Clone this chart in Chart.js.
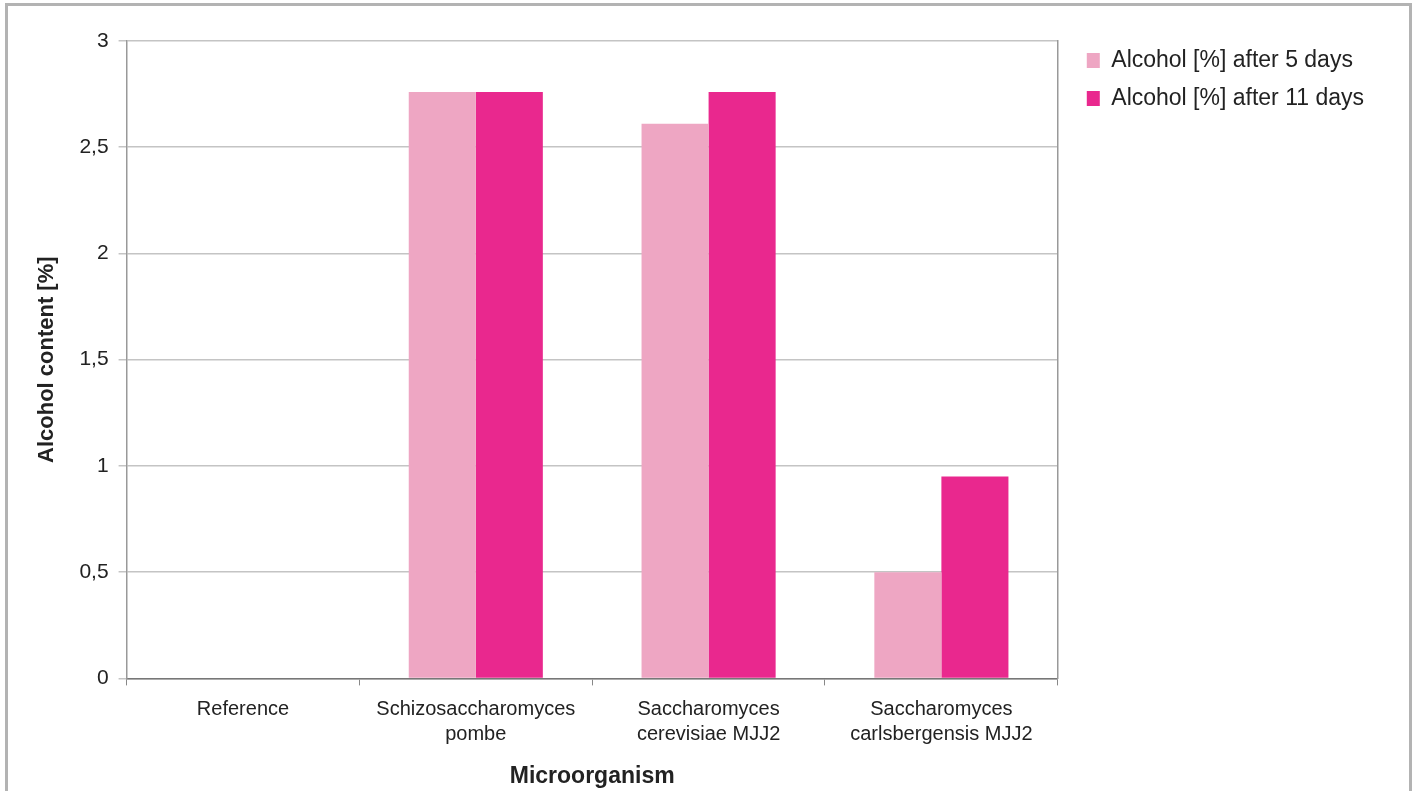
<!DOCTYPE html>
<html lang="en">
<head>
    <meta charset="UTF-8">
    <title>Alcohol content by microorganism</title>
    <script src="https://cdn.jsdelivr.net/npm/chart.js"></script>
    <style>
        body {
            margin: 0;
            background: #fff;
            font-family: "Liberation Sans", Arial, sans-serif;
        }
        .frame {
            position: absolute;
            left: 5px;
            top: 3px;
            width: 1407px;
            height: 800px;
            border: 3px solid #b3b3b3;
            box-sizing: border-box;
        }
        .frame canvas {
            display: block;
        }
    </style>
</head>
<body>
    <div class="frame">
        <canvas id="alcoholChart" width="1401" height="785"></canvas>
    </div>

    <script>
        // categories and measured values
        let microorganisms = [
            'Reference',
            ['Schizosaccharomyces', 'pombe'],
            ['Saccharomyces', 'cerevisiae MJJ2'],
            ['Saccharomyces', 'carlsbergensis MJJ2']
        ];
        let after5Days = [0, 2.76, 2.61, 0.50];
        let after11Days = [0, 2.76, 2.76, 0.95];
        let yTicks = [0, 0.5, 1, 1.5, 2, 2.5, 3];

        let textColor = '#222';
        let ctx = document.getElementById('alcoholChart').getContext('2d');

        // legend sits a little higher than the plot top in the original
        let legendNudge = {
            id: 'legendNudge',
            afterLayout(c) {
                c.legend.top -= 7;
                c.legend.bottom -= 7;
            }
        };

        let chart = new Chart(ctx, {
            type: 'bar',
            data: {
                labels: microorganisms,
                datasets: [{
                    label: 'Alcohol [%] after 5 days',
                    data: after5Days,
                    backgroundColor: '#eea6c3',
                    borderWidth: 0
                }, {
                    label: 'Alcohol [%] after 11 days',
                    data: after11Days,
                    backgroundColor: '#e9288e',
                    borderWidth: 0
                }]
            },
            plugins: [legendNudge],
            options: {
                responsive: false,
                animation: false,
                categoryPercentage: 0.576,
                barPercentage: 1.0,
                layout: {
                    padding: { left: 26, right: 35, top: 35, bottom: 1 }
                },
                plugins: {
                    tooltip: { enabled: false },
                    legend: {
                        position: 'right',
                        align: 'start',
                        maxWidth: 420,
                        labels: {
                            color: textColor,
                            font: { family: 'Liberation Sans', size: 23 },
                            boxWidth: 13,
                            boxHeight: 15,
                            padding: 15
                        }
                    }
                },
                scales: {
                    x: {
                        grid: {
                            offset: true,
                            drawOnChartArea: false,
                            drawTicks: true,
                            tickLength: 7,
                            color: '#888'
                        },
                        border: { color: '#777', width: 1.5 },
                        ticks: {
                            color: textColor,
                            font: { family: 'Liberation Sans', size: 20, lineHeight: 1.25 },
                            maxRotation: 0,
                            padding: 12
                        },
                        title: {
                            display: true,
                            text: 'Microorganism',
                            color: textColor,
                            font: { family: 'Liberation Sans', size: 23, weight: 'bold' },
                            padding: { top: 3, bottom: 0 }
                        }
                    },
                    y: {
                        min: 0,
                        max: 3,
                        afterBuildTicks: axis => {
                            axis.ticks = yTicks.map(v => ({ value: v }));
                        },
                        grid: {
                            color: '#c4c4c4',
                            lineWidth: 1.5,
                            tickLength: 8
                        },
                        border: { color: '#999', width: 1.5 },
                        ticks: {
                            color: textColor,
                            font: { family: 'Liberation Sans', size: 21 },
                            padding: 10,
                            callback: v => String(v).replace('.', ',')
                        },
                        title: {
                            display: true,
                            text: 'Alcohol content [%]',
                            color: textColor,
                            font: { family: 'Liberation Sans', size: 22, weight: 'bold' },
                            padding: { top: 0, bottom: 9 }
                        }
                    },
                    yRight: {
                        position: 'right',
                        min: 0,
                        max: 3,
                        grid: { drawOnChartArea: false, drawTicks: false },
                        border: { color: '#999', width: 1.5 },
                        ticks: { display: false },
                        afterFit: axis => { axis.width = 14; }
                    }
                }
            }
        });
    </script>
</body>
</html>
